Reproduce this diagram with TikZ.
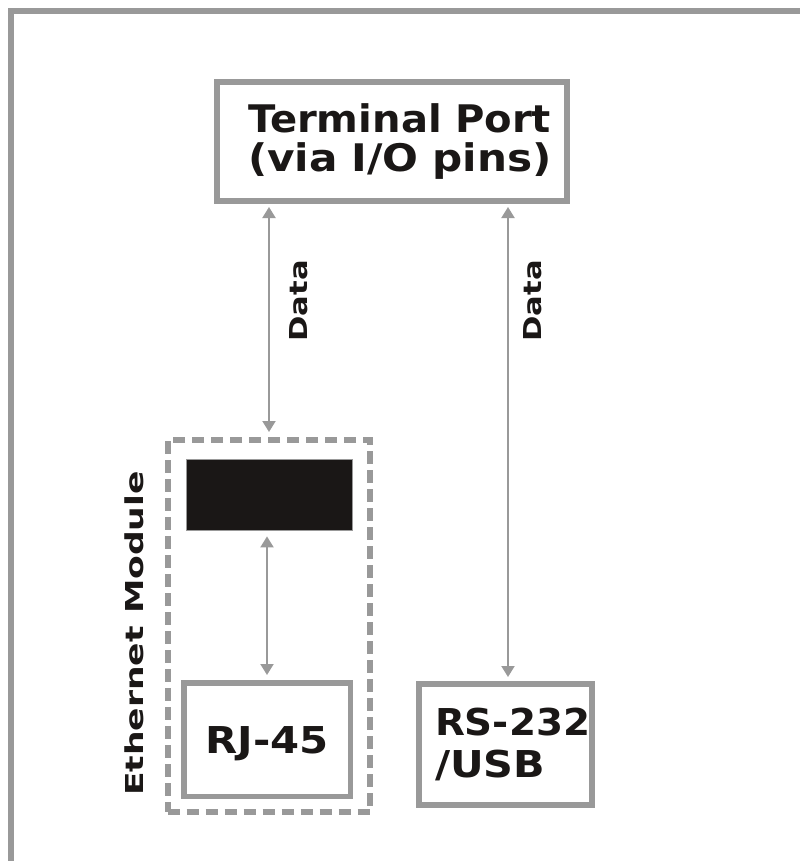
\documentclass[tikz,border=0pt]{standalone}
\usepackage{fontspec}
\setmainfont{DejaVu Sans}
\usetikzlibrary{arrows.meta}
\definecolor{lg}{RGB}{153,153,153}
\definecolor{ink}{RGB}{26,23,22}
\begin{document}
\begin{tikzpicture}[x=1pt,y=-1pt,
  box/.style={draw=lg, line width=6pt, rectangle, inner sep=0pt, text=ink},
  arr/.style={draw=lg, line width=2pt, {Triangle[width=13pt,length=11pt]}-{Triangle[width=13pt,length=11pt]}},
  lbl/.style={text=ink, font=\bfseries\fontsize{24.7}{26}\selectfont, rotate=90, inner sep=0pt, text height=18pt, text depth=0pt},
]
\useasboundingbox (0,0) rectangle (800,861);
\draw[draw=lg, line width=6pt] (11,861) -- (11,11.5) -- (800,11.5);

\node[box, minimum width=350pt, minimum height=119pt, text width=288pt, align=left,
      font=\bfseries\fontsize{38}{39}\selectfont] (term) at (392,141.5)
  {\scalebox{1.055}[1]{Terminal Port}\\\scalebox{1.11}[1]{(via I/O pins)}};

\node[draw=lg, line width=6pt, dash pattern=on 12.5pt off 6.5pt, minimum width=202.5pt,
      minimum height=372.5pt, inner sep=0pt] (mod) at (268.75,625.75) {};
\node[lbl] (modlbl) at (134,633.5) {\scalebox{1.40}[1]{Ethernet Module}};

\node[fill=ink, draw=lg, line width=0.8pt, minimum width=166pt, minimum height=71pt, inner sep=0pt]
  (blk) at (269,494.5) {};

\node[box, line width=5.5pt, minimum width=166.5pt, minimum height=113.5pt,
      font=\bfseries\fontsize{37}{40}\selectfont, text height=27pt, text depth=0pt]
  (rj) at (267,739.5) {\scalebox{1.13}[1]{RJ-45}};

\node[box, minimum width=173pt, minimum height=121pt, text width=141pt, align=left,
      font=\bfseries\fontsize{37}{42}\selectfont] (rs) at (505.5,744.5)
  {\scalebox{1.05}[1]{RS-232}\\\scalebox{1.12}[1]{/USB}};

\coordinate (rsin) at ([xshift=2.5pt]rs.north);

\draw[arr, shorten <=3pt, shorten >=4.5pt] (term.south -| blk.north) --
  node[xshift=29pt, lbl, pos=0.417] (d1) {\scalebox{1.24}[1]{Data}} (mod.north -| blk.north);
\draw[arr, shorten <=3pt, shorten >=4pt] (term.south -| rsin) --
  node[xshift=24pt, lbl, pos=0.203] (d2) {\scalebox{1.24}[1]{Data}} (rsin);
\draw[arr, shorten <=6pt, shorten >=5pt] (blk.south -| rj.north) -- (rj.north);
\end{tikzpicture}
\end{document}
